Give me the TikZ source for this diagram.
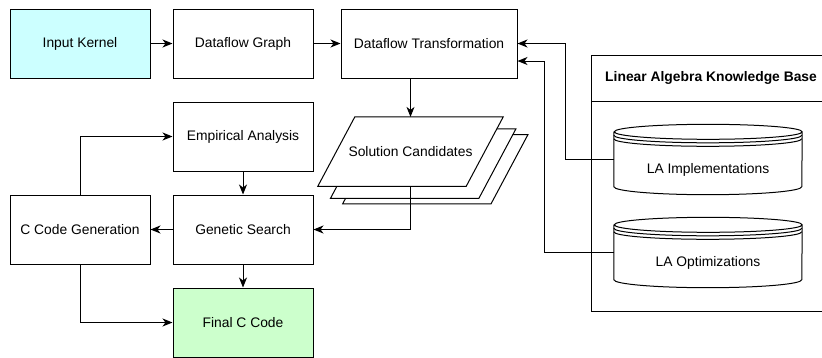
\documentclass[tikz,border=0pt]{standalone}
\usepackage{fontspec}
\setmainfont{Liberation Sans}
\usetikzlibrary{arrows.meta,backgrounds}

\tikzset{
  box/.style={draw, line width=1pt, minimum width=140pt, minimum height=69pt, inner sep=0pt},
  sheet/.style={minimum width=185pt, minimum height=69pt, inner sep=0pt},
  store/.style={minimum width=188pt, minimum height=70pt, inner sep=0pt},
  arr/.style={line width=1pt, -{Stealth[length=10pt,width=8pt,inset=3pt]}},
  line/.style={line width=1pt}
}

\begin{document}
\begin{tikzpicture}[x=1pt, y=-1pt, font=\fontsize{13.85}{16}\selectfont]

    \useasboundingbox (0,0) rectangle (822,357);

    % these are the process boxes
    \node[box, fill={rgb,255:red,204;green,255;blue,255}] (inp) at (80,43.5) {Input Kernel};
    \node[box] (dfg) at (243,43.5) {Dataflow Graph};
    \node[box, minimum width=176pt] (dft) at (429,43.5) {Dataflow Transformation};
    \node[box] (emp) at (243,136.5) {Empirical Analysis};
    \node[box] (gen) at (243,229.5) {Genetic Search};
    \node[box] (ccg) at (80,229.5) {C Code Generation};
    \node[box, fill={rgb,255:red,204;green,255;blue,204}] (fin) at (243,322.5) {Final C Code};

    % the stack of candidates
    \node[sheet] (sol) at (410.5,151.6) {Solution Candidates};
    \begin{scope}[on background layer]
      \foreach \dx/\dy in {24.8/17.6, 12.7/12, 0/0}
        \draw[line, fill=white] ([xshift=\dx pt+37pt, yshift=-\dy pt]sol.north west)
          -- ([xshift=\dx pt, yshift=-\dy pt]sol.north east)
          -- ([xshift=\dx pt-37pt, yshift=-\dy pt]sol.south east)
          -- ([xshift=\dx pt, yshift=-\dy pt]sol.south west) -- cycle;
    \end{scope}

    % the knowledge base
    \node[draw, line width=1pt, minimum width=231pt, minimum height=256pt] (kb) at (707.2,183) {};
    \draw[line] (kb.west |- 0,101) -- (kb.east |- 0,101);
    \node[anchor=west, font=\fontsize{13.85}{16}\selectfont\bfseries] at (601.7,78) {Linear Algebra Knowledge Base};

    \node[store, label={[yshift=-10.5pt]center:LA Implementations}] (impl) at (708,159.5) {};
    \node[store, label={[yshift=-10pt]center:LA Optimizations}] (opt) at (708,252.5) {};

    \foreach \n in {impl,opt}{
      \draw[line] ([yshift=-7.5pt]\n.north west) -- ([yshift=8pt]\n.south west)
        arc[start angle=180, end angle=360, x radius=94pt, y radius=8pt]
        -- ([yshift=-7.5pt]\n.north east)
        arc[start angle=0, end angle=180, x radius=94pt, y radius=7.5pt]
        arc[start angle=180, end angle=360, x radius=94pt, y radius=7.5pt];
      \draw[line] ([yshift=-11pt]\n.north west)
        arc[start angle=180, end angle=360, x radius=94pt, y radius=7.5pt];
      \draw[line] ([yshift=-14.5pt]\n.north west)
        arc[start angle=180, end angle=360, x radius=94pt, y radius=7.5pt];
    }

    % connectors
    \draw[arr] (inp) -- (dfg);
    \draw[arr] (dfg) -- (dft);
    \draw[arr] (dft.south -| sol.center) -- (sol.north);
    \draw[arr] (sol.south) |- (gen.east);
    \draw[arr] (emp) -- (gen);
    \draw[arr] (gen) -- (fin);
    \draw[arr] (gen) -- (ccg);
    \draw[arr] (ccg.north) |- (emp.west);
    \draw[arr] (ccg.south) |- (fin.west);
    \draw[arr] (impl.west) -- ++(-48,0) |- (dft.east);
    \draw[arr] (opt.west) -- ++(-69,0) |- ([yshift=-17.5pt]dft.east);

\end{tikzpicture}
\end{document}
